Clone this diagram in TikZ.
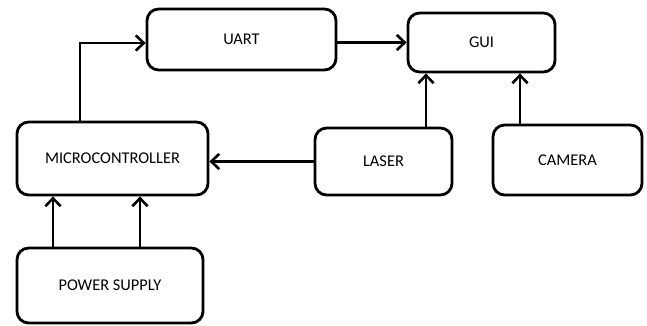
\documentclass[tikz,border=0pt]{standalone}
\usepackage{fontspec}
\setmainfont{Carlito}
\usetikzlibrary{arrows.meta}

\begin{document}
\begin{tikzpicture}[x=0.03cm,y=-0.03cm,line width=2.2pt,
	>={Straight Barb[length=2.4mm,width=4.6mm]},
	block/.style={draw,rounded corners=3.5mm,line width=2.4pt,
		font=\fontsize{14}{16}\selectfont}]
\useasboundingbox (0,0) rectangle (647,325);
\node[block,minimum width=5.67cm,minimum height=1.83cm] (uart) at (241.5,39.5) {UART};
\node[block,minimum width=4.41cm,minimum height=1.77cm] (gui) at (481.5,42.5) {GUI};
\node[block,minimum width=5.73cm,minimum height=2.19cm] (mc) at (112.5,158.5) {MICROCONTROLLER};
\node[block,minimum width=4.11cm,minimum height=2.01cm] (laser) at (383.5,161.5) {LASER};
\node[block,minimum width=4.47cm,minimum height=2.10cm] (camera) at (567.5,160) {CAMERA};
\node[block,minimum width=5.58cm,minimum height=2.25cm] (ps) at (110,285.5) {POWER SUPPLY};
\coordinate (bend) at (80,43);
\coordinate (lg) at (426,0);
\coordinate (cg) at (520,0);
\draw[->] (mc.north -| bend) |- (uart.west |- bend);
\draw[->] (uart.east |- gui.west) -- (gui.west);
\draw[->] (laser.north -| lg) -- (gui.south -| lg);
\draw[->] (camera.north -| cg) -- (gui.south -| cg);
\draw[->] (laser.west) -- (mc.east |- laser.west);
\foreach \x in {53,140}{
	\coordinate (p\x) at (\x,0);
	\draw[->] (ps.north -| p\x) -- (mc.south -| p\x);
}
\end{tikzpicture}
\end{document}
